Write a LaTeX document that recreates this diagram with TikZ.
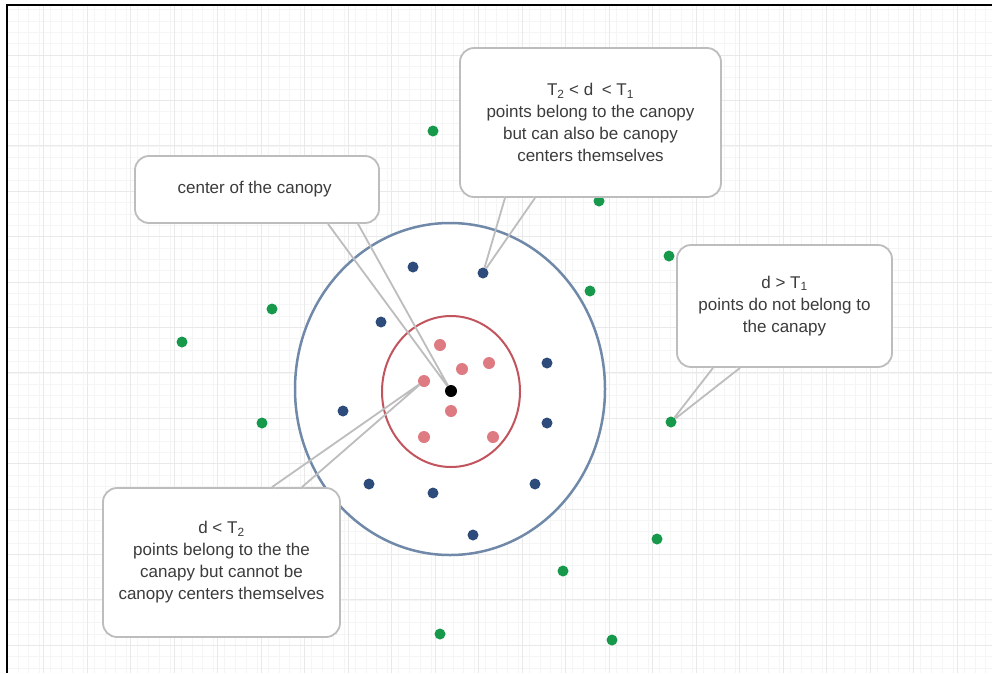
\documentclass[tikz,border=0pt]{standalone}
\usepackage{fontspec}
\setmainfont{Liberation Sans}
\usetikzlibrary{calc, backgrounds}
\definecolor{gridmajor}{HTML}{E9E9E9}
\definecolor{gridminor}{HTML}{F5F5F5}
\definecolor{outercol}{HTML}{7089A8}
\definecolor{innercol}{HTML}{C2545E}
\definecolor{bluedot}{HTML}{2D4B7B}
\definecolor{reddot}{HTML}{DE7B82}
\definecolor{greendot}{HTML}{17994C}
\definecolor{boxline}{HTML}{BDBDBD}
\definecolor{boxtext}{HTML}{3C3C3C}
\tikzset{
  pdot/.style  = {circle, inner sep=0pt, minimum size=11pt},
  bdot/.style  = {pdot, fill=bluedot},
  rdot/.style  = {pdot, fill=reddot, minimum size=12pt},
  gdot/.style  = {pdot, fill=greendot},
  %% callout boxes and their pointers
  cbox/.style  = {draw=boxline, fill=white, line width=1.8pt, rounded corners=14pt,
                  align=center, text=boxtext, font=\fontsize{17}{22}\selectfont},
  ptr/.style   = {draw=boxline, line width=1.8pt, line join=round},
}

\begin{document}
\begin{tikzpicture}[x=1pt, y=-1pt]
\useasboundingbox (0,0) rectangle (992,673);

%% ---- Background: grid, frame, canopy circles ----
\begin{pgfonlayer}{background}
  \fill[white] (0,0) rectangle (992,673);
  \foreach \k in {0,...,91} \draw[gridminor, line width=0.6pt] (7+10.875*\k,5) -- (7+10.875*\k,673);
  \foreach \k in {0,...,60} \draw[gridminor, line width=0.6pt] (7,9.6+11.35*\k) -- (992,9.6+11.35*\k);
  \foreach \k in {1,...,22} \draw[gridmajor, line width=1pt] (43.5*\k,5) -- (43.5*\k,673);
  \foreach \k in {1,...,14} \draw[gridmajor, line width=1pt] (7,9.6+45.4*\k) -- (992,9.6+45.4*\k);
  \draw[black, line width=2pt] (7,673) -- (7,5) -- (992,5);

  %% T1 and T2 circles
  \filldraw[fill=white, draw=outercol, line width=2.5pt] (450,389) ellipse [x radius=155, y radius=166];
  \draw[innercol, line width=2pt] (451,391.5) ellipse [x radius=69, y radius=75.5];
\end{pgfonlayer}

%% ---- (1) Points ----
\foreach \n/\x/\y in {r1/440/345, r2/462/369, r3/489/363, r4/424/381,
                      r5/451/411, r6/424/437, r7/493/437}
  \node[rdot] (\n) at (\x,\y) {};
\foreach \n/\x/\y in {b1/413/267, b2/483/273, b3/381/322, b4/547/363, b5/343/411,
                      b6/547/423, b7/369/484, b8/433/493, b9/535/484, b10/473/535}
  \node[bdot] (\n) at (\x,\y) {};
\foreach \n/\x/\y in {g1/433/131, g2/599/201, g3/669/256, g4/590/291, g5/272/309,
                      g6/182/342, g7/262/423, g8/671/422, g9/657/539, g10/563/571,
                      g11/440/634, g12/612/640}
  \node[gdot] (\n) at (\x,\y) {};
\node[pdot, fill=black, minimum size=12pt] (ctr) at (451,391) {};

%% ---- (2) Callout: T2 < d < T1 ----
\node[cbox, minimum width=261pt, minimum height=149pt] (midbox) at (590.5,122.5) {
  T\textsubscript{2} < d\enspace< T\textsubscript{1}\\
  points belong to the canopy\\
  but can also be canopy\\
  centers themselves
};
\fill[white] ($(midbox.south)+(-85.5,-3)$) -- (b2) -- ($(midbox.south)+(-55.5,-3)$) -- cycle;
\draw[ptr] ($(midbox.south)+(-85.5,0)$) -- (b2) -- ($(midbox.south)+(-55.5,0)$);

%% ---- (3) Callout: center of the canopy ----
\node[cbox, minimum width=244pt, minimum height=67pt] (ctrbox) at (257,189.5) {
  center of the canopy
};
\fill[white] ($(ctrbox.south)+(71,-3)$) -- (ctr) -- ($(ctrbox.south)+(101,-3)$) -- cycle;
\draw[ptr] ($(ctrbox.south)+(71,0)$) -- (ctr) -- ($(ctrbox.south)+(101,0)$);

%% ---- (4) Callout: d > T1 ----
\node[cbox, minimum width=215pt, minimum height=122pt] (outbox) at (784.5,306) {
  d > T\textsubscript{1}\\
  points do not belong to\\
  the canapy
};
\fill[white] ($(outbox.south)+(-71.5,-3)$) -- (g8) -- ($(outbox.south)+(-44.5,-3)$) -- cycle;
\draw[ptr] ($(outbox.south)+(-71.5,0)$) -- (g8) -- ($(outbox.south)+(-44.5,0)$);

%% ---- (5) Callout: d < T2 ----
\node[cbox, minimum width=237pt, minimum height=149pt] (inbox) at (221.5,562.5) {
  d < T\textsubscript{2}\\
  points belong to the the\\
  canapy but cannot be\\
  canopy centers themselves
};
\fill[white] ($(inbox.north)+(50.5,3)$) -- (r4) -- ($(inbox.north)+(80.5,3)$) -- cycle;
\draw[ptr] ($(inbox.north)+(50.5,0)$) -- (r4) -- ($(inbox.north)+(80.5,0)$);

\end{tikzpicture}
\end{document}
